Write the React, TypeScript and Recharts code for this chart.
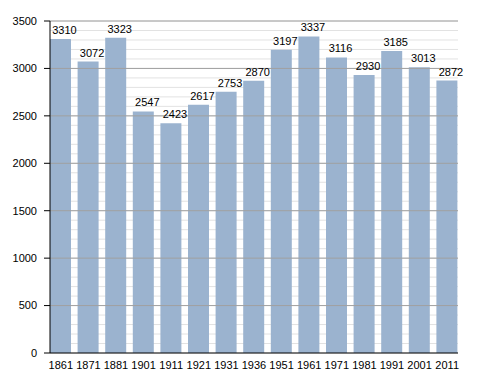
import { BarChart, Bar, XAxis, YAxis, CartesianGrid, ReferenceLine, LabelList } from 'recharts'

const YEARS = ['1861', '1871', '1881', '1901', '1911', '1921', '1931', '1936', '1951', '1961', '1971', '1981', '1991', '2001', '2011']
const POPULATION = [3310, 3072, 3323, 2547, 2423, 2617, 2753, 2870, 3197, 3337, 3116, 2930, 3185, 3013, 2872]
const MAJOR_TICKS = [0, 500, 1000, 1500, 2000, 2500, 3000, 3500]
const MINOR_TICKS = Array.from({ length: 36 }, (_, i) => i * 100)

const BAR_COLOR = '#9bb3cf'
const FONT = '"Liberation Sans", Arial, sans-serif'

export default function App() {
  const data = YEARS.map((year, i) => ({ year, value: POPULATION[i] }))

  return (
    <div style={{ position: 'absolute', left: 0, top: 0, fontFamily: FONT }}>
      <BarChart width={488} height={373} data={data} margin={{ top: 21, right: 30, bottom: 0, left: 0 }}>
        {/* light minor grid every 100 */}
        <CartesianGrid vertical={false} horizontalValues={MINOR_TICKS} stroke="#e2e2e2" />
        {MAJOR_TICKS.slice(1).map((v) => (
          <ReferenceLine key={v} y={v} stroke="#a0a0a0" />
        ))}
        <XAxis
          dataKey="year"
          height={20}
          padding={{ left: -3, right: -3 }}
          tickLine={false}
          axisLine={{ stroke: '#000' }}
          tick={{ fontSize: 11, fill: '#000', fontFamily: FONT }}
          tickMargin={2}
          interval={0}
        />
        <YAxis
          yAxisId="minor"
          orientation="left"
          width={0}
          domain={[0, 3500]}
          ticks={MINOR_TICKS}
          tickSize={4}
          tickFormatter={() => ''}
          tickLine={{ stroke: '#000' }}
          axisLine={false}
        />
        <YAxis
          width={50}
          domain={[0, 3500]}
          ticks={MAJOR_TICKS}
          interval={0}
          tickSize={6}
          tickMargin={7}
          tickLine={{ stroke: '#000' }}
          axisLine={{ stroke: '#000' }}
          tick={{ fontSize: 11, fill: '#000', fontFamily: FONT }}
        />
        <Bar dataKey="value" fill={BAR_COLOR} barSize={21} isAnimationActive={false}>
          <LabelList dataKey="value" position="top" offset={5} dx={4} style={{ fontSize: 11, fill: '#000', fontFamily: FONT }} />
        </Bar>
      </BarChart>
    </div>
  )
}
